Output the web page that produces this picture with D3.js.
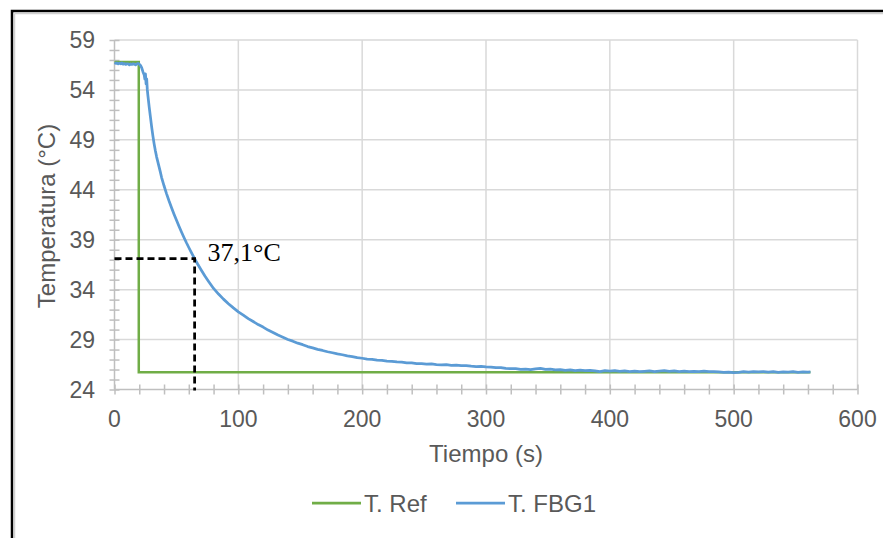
<!DOCTYPE html>
<html lang="es">
<head>
<meta charset="utf-8">
<title>Temperatura vs Tiempo</title>
<script src="https://d3js.org/d3.v7.min.js"></script>
<style type="text/css">
  body { margin: 0; background: #fff; }
  .tick-label { font-family: "Liberation Sans", Arial, sans-serif; fill: #595959; }
</style>
</head>
<body>
<div id="chart"></div>
<script type="text/javascript">

// ---- data ----
var seriesNames = ['T. Ref', 'T. FBG1'];
var xTicks = [0, 100, 200, 300, 400, 500, 600];
var yTicks = [24, 29, 34, 39, 44, 49, 54, 59];

// reference thermometer: step from 56.8 to 25.72 at ~19.6 s
var refTime = [0, 19.6, 19.6, 562];
var refTemp = [56.8, 56.8, 25.72, 25.72];

// FBG sensor reading
var fbgTime = [0, 1, 2, 3, 4, 5, 6, 7, 8, 9, 10, 11, 12, 13, 14, 15, 16, 17, 18, 19, 20, 21,
  22, 23, 24, 24.5, 25, 25.5, 26, 26.5, 27, 28, 29, 30, 31, 32, 33, 34, 35, 36, 37, 38,
  40, 42, 44, 46, 48, 50, 52, 54, 56, 58, 60, 62, 64.7, 67, 70, 73, 76, 80, 84, 88, 92, 96,
  100, 104, 108, 112, 116, 120, 124, 128, 132, 136, 140, 144, 148, 152, 156, 160, 164, 168,
  172, 176, 180, 184, 188, 192, 196, 200, 204, 208, 212, 216, 220, 224, 228, 232, 236, 240,
  244, 248, 252, 256, 260, 264, 268, 272, 276, 280, 284, 288, 292, 296, 300, 304, 308, 312,
  316, 320, 324, 328, 332, 336, 340, 344, 348, 352, 356, 360, 364, 368, 372, 376, 380, 384,
  388, 392, 396, 400, 404, 408, 412, 416, 420, 424, 428, 432, 436, 440, 444, 448, 452, 456,
  460, 464, 468, 472, 476, 480, 484, 488, 492, 496, 500, 504, 508, 512, 516, 520, 524, 528,
  532, 536, 540, 544, 548, 552, 556, 560, 562];
var fbgTemp = [56.72, 56.66, 56.70, 56.60, 56.68, 56.62, 56.70, 56.58, 56.64, 56.55, 56.62, 56.60,
  56.52, 56.60, 56.55, 56.62, 56.58, 56.50, 56.60, 56.66, 56.58, 56.45,
  56.2, 55.8, 55.5, 55.1, 55.6, 54.6, 55.1, 54.0, 53.4, 52.3, 51.3, 50.3, 49.4, 48.6, 47.9, 47.3,
  46.8, 46.3, 45.8, 45.25,
  44.4, 43.62, 42.9, 42.23, 41.58, 40.97, 40.37, 39.8, 39.25, 38.72, 38.22, 37.73, 37.1, 36.59,
  35.97, 35.37, 34.82, 34.12, 33.56, 33.05, 32.59, 32.17,
  31.78, 31.45, 31.10, 30.81, 30.50, 30.25, 29.95, 29.71, 29.45, 29.24, 29.01, 28.84, 28.64, 28.49,
  28.30, 28.17, 28.02, 27.91, 27.78, 27.68, 27.56, 27.48, 27.36, 27.30, 27.19, 27.13, 27.05, 27.02,
  26.95, 26.92, 26.85, 26.82, 26.76, 26.73, 26.67, 26.66, 26.60, 26.58, 26.54, 26.56, 26.50, 26.46,
  26.48, 26.42, 26.44, 26.38, 26.40, 26.34, 26.30, 26.32, 26.26, 26.24, 26.18, 26.20, 26.12, 26.08,
  26.10, 26.02, 26.04, 25.98, 26.06, 26.12, 26.02, 26.04, 25.96, 25.98, 25.92, 25.96, 25.90, 25.94,
  25.88, 25.92, 25.86, 25.80, 25.88, 25.84, 25.90, 25.82, 25.86, 25.80, 25.84, 25.78, 25.82, 25.86,
  25.80, 25.84, 25.88, 25.82, 25.86, 25.80, 25.84, 25.78, 25.82, 25.80, 25.84, 25.78, 25.80, 25.76,
  25.72, 25.74, 25.68, 25.72, 25.78, 25.74, 25.80, 25.76, 25.80, 25.74, 25.78, 25.72, 25.76, 25.74,
  25.78, 25.72, 25.76, 25.74, 25.76];

// tau point marked on the chart
var markTime = 64.7;
var markTemp = 37.1;
var markLabel = '37,1°C';

var colors = ['#70ad47', '#5b9bd5'];

// ---- drawing ----
var width = 883, height = 538;
var svg = d3.select('#chart').append('svg')
  .attr('width', width)
  .attr('height', height);

// outer frame (only top/left edges are inside the picture)
svg.append('rect')
  .attr('x', 12).attr('y', 11)
  .attr('width', 900).attr('height', 600)
  .attr('fill', '#fff')
  .attr('stroke', '#000')
  .attr('stroke-width', 2.5);
svg.append('path')
  .attr('d', 'M14.5,13.5H883M14.5,13.5V538')
  .attr('stroke', '#d0d0d0')
  .attr('stroke-width', 1.5)
  .attr('fill', 'none');

var x = d3.scaleLinear().domain([0, 600]).range([114.5, 857.5]);
var y = d3.scaleLinear().domain([24, 59]).range([389.5, 40]);

// gridlines
var grid = svg.append('g');
grid.selectAll('.hg').data(yTicks.slice(1)).enter().append('line')
  .attr('x1', x(0)).attr('x2', x(600))
  .attr('y1', function(d) { return y(d); }).attr('y2', function(d) { return y(d); })
  .attr('stroke', '#d9d9d9').attr('stroke-width', 1.5);
grid.selectAll('.vg').data(xTicks.slice(1)).enter().append('line')
  .attr('y1', y(24)).attr('y2', y(59))
  .attr('x1', function(d) { return x(d); }).attr('x2', function(d) { return x(d); })
  .attr('stroke', '#d9d9d9').attr('stroke-width', 1.5);

// axes with minor ticks that cross the line
var axisColor = '#bfbfbf';
var xAxis = d3.axisBottom(x).tickValues(d3.range(0, 601, 20)).tickSize(10).tickFormat('');
var gx = svg.append('g').attr('transform', 'translate(0,' + (y(24) - 5) + ')').call(xAxis);
var yAxis = d3.axisLeft(y).tickValues(d3.range(24, 60, 1)).tickSize(10).tickFormat('');
var gy = svg.append('g').attr('transform', 'translate(' + (x(0) + 5) + ',0)').call(yAxis);
[gx, gy].forEach(function(g) {
  g.select('.domain').remove();
  g.selectAll('line').attr('stroke', axisColor).attr('stroke-width', 1.5);
});
svg.append('line')
  .attr('x1', x(0)).attr('x2', x(600)).attr('y1', y(24)).attr('y2', y(24))
  .attr('stroke', axisColor).attr('stroke-width', 1.5);
svg.append('line')
  .attr('x1', x(0)).attr('x2', x(0)).attr('y1', y(24)).attr('y2', y(59))
  .attr('stroke', axisColor).attr('stroke-width', 1.5);

// tick labels
var fontSize = 23;
var titleSize = 24;
svg.selectAll('.xl').data(xTicks).enter().append('text')
  .attr('class', 'tick-label')
  .attr('x', function(d) { return x(d); })
  .attr('y', 427)
  .attr('text-anchor', 'middle')
  .attr('font-size', fontSize)
  .text(function(d) { return d; });
svg.selectAll('.yl').data(yTicks).enter().append('text')
  .attr('class', 'tick-label')
  .attr('x', 95)
  .attr('y', function(d) { return y(d); })
  .attr('dy', '0.36em')
  .attr('text-anchor', 'end')
  .attr('font-size', fontSize)
  .text(function(d) { return d; });

// axis titles
svg.append('text')
  .attr('class', 'tick-label')
  .attr('x', 486).attr('y', 462)
  .attr('text-anchor', 'middle')
  .attr('font-size', titleSize)
  .text('Tiempo (s)');
svg.append('text')
  .attr('class', 'tick-label')
  .attr('transform', 'translate(55,216) rotate(-90)')
  .attr('text-anchor', 'middle')
  .attr('font-size', titleSize)
  .text('Temperatura (°C)');

// series
var line = d3.line()
  .x(function(d) { return x(d[0]); })
  .y(function(d) { return y(d[1]); });

var refData = d3.zip(refTime, refTemp);
var fbgData = d3.zip(fbgTime, fbgTemp);

svg.append('path').datum(refData)
  .attr('d', line)
  .attr('fill', 'none')
  .attr('stroke', colors[0])
  .attr('stroke-width', 2.5);
svg.append('path').datum(fbgData)
  .attr('d', line)
  .attr('fill', 'none')
  .attr('stroke', colors[1])
  .attr('stroke-width', 2.75)
  .attr('stroke-linejoin', 'round');

// dashed marker at the 37,1 point
svg.append('path')
  .attr('d', 'M' + x(0) + ',' + y(markTemp) + 'H' + x(markTime) + 'V' + (y(24) + 1))
  .attr('fill', 'none')
  .attr('stroke', '#000')
  .attr('stroke-width', 2.75)
  .attr('stroke-dasharray', '7,4');
svg.append('text')
  .attr('x', x(markTime) + 13)
  .attr('y', y(markTemp) + 2)
  .attr('font-family', '"Liberation Serif", "Times New Roman", serif')
  .attr('font-size', 26)
  .attr('fill', '#000')
  .text(markLabel);

// legend
var legendX = [312, 456];
var lg = svg.selectAll('.lg').data(seriesNames).enter().append('g')
  .attr('transform', function(d, i) { return 'translate(' + legendX[i] + ',503)'; });
lg.append('line')
  .attr('x1', 0).attr('x2', 49).attr('y1', 0).attr('y2', 0)
  .attr('stroke', function(d, i) { return colors[i]; })
  .attr('stroke-width', 2.75);
lg.append('text')
  .attr('class', 'tick-label')
  .attr('x', 52).attr('y', 0).attr('dy', '0.36em')
  .attr('font-size', titleSize)
  .text(function(d) { return d; });

</script>
</body>
</html>
